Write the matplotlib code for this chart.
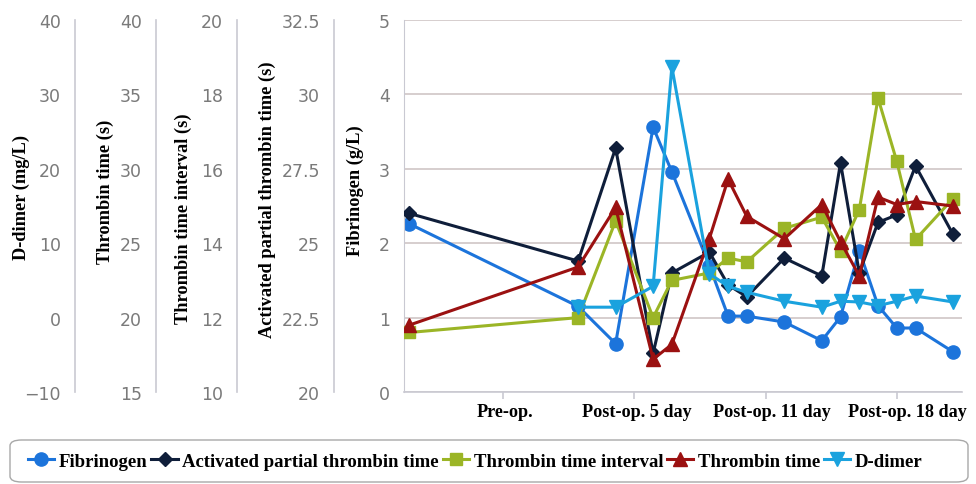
import numpy as np
import matplotlib
matplotlib.use('Agg')
import matplotlib.pyplot as plt
from matplotlib.ticker import FuncFormatter
from matplotlib.patches import FancyBboxPatch

# ---------------- data ----------------
days = [0, 9, 11, 13, 14, 16, 17, 18, 20, 22, 23, 24, 25, 26, 27, 29]
fibrinogen = [2.26, 1.15, 0.65, 3.56, 2.96, 1.70, 1.02, 1.02, 0.94, 0.69, 1.01, 1.90, 1.16, 0.86, 0.86, 0.54]
aptt = [26.0, 24.4, 28.2, 21.3, 24.0, 24.7, 23.6, 23.2, 24.5, 23.9, 27.7, 24.0, 25.7, 25.95, 27.6, 25.3]
tti = [11.6, 12.0, 14.6, 12.0, 13.0, 13.2, 13.6, 13.5, 14.4, 14.7, 13.8, 14.9, 17.9, 16.2, 14.1, 15.2]
tt = [19.5, 23.4, 27.4, 17.2, 18.2, 25.3, 29.3, 26.8, 25.3, 27.6, 25.1, 22.8, 28.1, 27.6, 27.8, 27.5]
ddimer = [np.nan, 1.4, 1.4, 4.2, 33.7, 5.9, 4.2, 3.4, 2.2, 1.4, 2.2, 2.1, 1.6, 2.2, 2.9, 2.1]

tick_marks = [5, 12, 19, 26]
label_pos = [5.1, 12.14, 19.34, 26.55]
xtick_labels = ['Pre-op.', 'Post-op. 5 day', 'Post-op. 11 day', 'Post-op. 18 day']

# ---------------- style ----------------
W, H = 976, 485
fig = plt.figure(figsize=(W / 100, H / 100), dpi=100)
serif = ['Liberation Serif', 'DejaVu Serif']
tickfont = ['DejaVu Sans']
tick_color = '#7a7a7a'
spine_color = '#c9c9d2'
grid_color = '#cfc6c6'
tick_size = 12.5

c_fib = '#1c74db'
c_aptt = '#0f1e3a'
c_tti = '#9bb526'
c_tt = '#9b1111'
c_dd = '#1aa2de'

L, T, R, B = 404, 21, 962, 393
ax = fig.add_axes([L / W, 1 - B / H, (R - L) / W, (B - T) / H])
ax.set_xlim(-0.29, 29.48)
ax.set_ylim(0, 5)
ax.set_yticks([0, 1, 2, 3, 4, 5])
ax.yaxis.grid(True, color=grid_color, lw=1.2)
ax.set_axisbelow(True)
for s in ['top', 'right']:
    ax.spines[s].set_visible(False)
ax.spines['left'].set_color(spine_color)
ax.spines['bottom'].set_color(spine_color)
ax.spines['bottom'].set_linewidth(1.2)
ax.tick_params(axis='y', length=0, pad=10, labelsize=tick_size, labelcolor=tick_color)
for lab in ax.get_yticklabels():
    lab.set_family(tickfont)
ax.set_xticks(tick_marks)
ax.set_xticklabels([])
ax.tick_params(axis='x', which='major', length=5, color=spine_color, width=1.2)
ax.set_xticks(label_pos, minor=True)
ax.set_xticklabels(xtick_labels, minor=True, family=serif, fontweight='bold', fontsize=13.1)
ax.tick_params(axis='x', which='minor', length=0, pad=8, labelcolor='black')

lw = 2.2
h_fib, = ax.plot(days, fibrinogen, color=c_fib, lw=lw, marker='o', ms=9.5, label='Fibrinogen')

def twin(ylim, ticks, spine_px):
    a = ax.twinx()
    a.set_ylim(*ylim)
    a.set_yticks(ticks)
    a.yaxis.set_ticks_position('left')
    a.yaxis.set_label_position('left')
    for s in ['top', 'right', 'bottom']:
        a.spines[s].set_visible(False)
    a.spines['left'].set_visible(True)
    a.spines['left'].set_position(('axes', (spine_px - L) / (R - L)))
    a.spines['left'].set_color(spine_color)
    a.spines['left'].set_linewidth(1.2)
    a.tick_params(axis='y', length=0, pad=10, labelsize=tick_size, labelcolor=tick_color)
    a.yaxis.set_major_formatter(FuncFormatter(lambda v, p: ('%g' % v).replace('-', '\u2212')))
    for lab in a.get_yticklabels():
        lab.set_family(tickfont)
    return a

ax_aptt = twin((20, 32.5), [20, 22.5, 25, 27.5, 30, 32.5], 334)
ax_tti = twin((10, 20), [10, 12, 14, 16, 18, 20], 237)
ax_tt = twin((15, 40), [15, 20, 25, 30, 35, 40], 156)
ax_dd = twin((-10, 40), [-10, 0, 10, 20, 30, 40], 75)

h_aptt, = ax_aptt.plot(days, aptt, color=c_aptt, lw=lw, marker='D', ms=7.5, label='Activated partial thrombin time')
h_tti, = ax_tti.plot(days, tti, color=c_tti, lw=lw, marker='s', ms=9, label='Thrombin time interval')
h_tt, = ax_tt.plot(days, tt, color=c_tt, lw=lw, marker='^', ms=10, label='Thrombin time')
h_dd, = ax_dd.plot(days, ddimer, color=c_dd, lw=lw, marker='v', ms=10, label='D-dimer')

# axis titles
labels = [('D-dimer (mg/L)', 21, 197), ('Thrombin time (s)', 105, 192),
          ('Thrombin time interval (s)', 183, 219),
          ('Activated partial thrombin time (s)', 267, 200), ('Fibrinogen (g/L)', 355, 191)]
for txt, px, py in labels:
    fig.text(px / W, 1 - py / H, txt, rotation=90, ha='center', va='center',
             family=serif, fontweight='bold', fontsize=13.2)

# legend
box = FancyBboxPatch((10 / W, 1 - 483 / H), 958 / W, 42 / H, boxstyle='round,pad=0,rounding_size=0.012',
                     transform=fig.transFigure, facecolor='white', edgecolor='#a8a8a8', lw=1)
fig.add_artist(box)
fig.legend(handles=[h_fib, h_aptt, h_tti, h_tt, h_dd], loc='center left',
           bbox_to_anchor=(28 / W, 1 - 462 / H), ncol=5, frameon=False,
           prop={'family': serif, 'weight': 'bold', 'size': 13.5},
           columnspacing=0.2, handletextpad=0.25, handlelength=1.4, borderaxespad=0,
           borderpad=0)

fig.savefig('out.png', dpi=100)
